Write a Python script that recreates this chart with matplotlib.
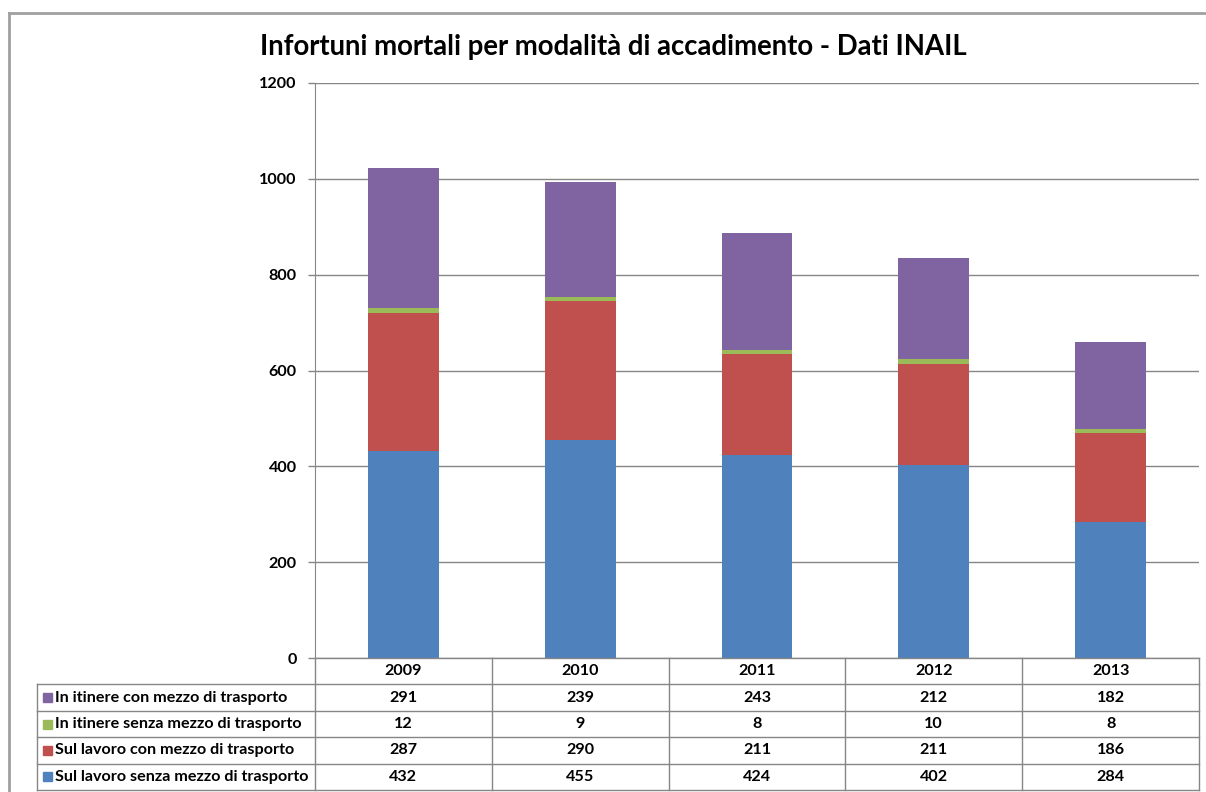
"""Infortuni mortali per modalità di accadimento - stacked bars with an Excel-style data table."""
import matplotlib
matplotlib.use("Agg")
import matplotlib.pyplot as plt
from matplotlib.lines import Line2D
from matplotlib.patches import Rectangle

years = ["2009", "2010", "2011", "2012", "2013"]
sul_lavoro_senza = [432, 455, 424, 402, 284]
sul_lavoro_con = [287, 290, 211, 211, 186]
itinere_senza = [12, 9, 8, 10, 8]
itinere_con = [291, 239, 243, 212, 182]

# bottom-to-top stacking order
series = [
    ("Sul lavoro senza mezzo di trasporto", sul_lavoro_senza, "#4F81BD"),
    ("Sul lavoro con mezzo di trasporto", sul_lavoro_con, "#C0504D"),
    ("In itinere senza mezzo di trasporto", itinere_senza, "#9BBB59"),
    ("In itinere con mezzo di trasporto", itinere_con, "#8064A2"),
]

W, H = 1206, 792
FONT = "Lato"
GRID = "#868686"
FS = 11.6


def fx(x):
    return x / W


def fy(y):
    return 1 - y / H


fig = plt.figure(figsize=(W / 100, H / 100), dpi=100)

# plot area, in pixel coordinates of the reference
left, right, top, base = 315, 1199, 83, 658
ax = fig.add_axes([fx(left), fy(base), fx(right - left), (base - top) / H])

bottom = [0] * len(years)
for label, vals, color in series:
    ax.bar(range(len(years)), vals, width=0.4, bottom=bottom, color=color, zorder=3)
    bottom = [b + v for b, v in zip(bottom, vals)]

ax.set_xlim(-0.5, len(years) - 0.5)
ax.set_ylim(0, 1200)
ax.set_yticks(range(0, 1201, 200))
ax.set_xticks([])
ax.yaxis.grid(True, color=GRID, linewidth=1, zorder=0)
for side in ("top", "right", "bottom"):
    ax.spines[side].set_visible(False)
ax.spines["left"].set_color(GRID)
ax.tick_params(axis="y", colors=GRID, length=5, width=1, labelcolor="black", pad=8)
for t in ax.get_yticklabels():
    t.set_fontfamily(FONT)
    t.set_fontweight("bold")
    t.set_fontsize(FS)

fig.text(fx(613), fy(47), "Infortuni mortali per modalità di accadimento - Dati INAIL",
         ha="center", va="center", fontsize=19.8, fontweight="bold", family=FONT)

# data table below the plot
col_w = (right - left) / len(years)
row_h = 26.4
table_left = 37
lines = []
# year row top (axis line) and row separators
lines.append(((left, right), (base, base)))
for i in range(1, len(series) + 2):
    y = base + i * row_h
    lines.append(((table_left, right), (y, y)))
lines.append(((table_left, table_left), (base + row_h, base + 5 * row_h)))
for j in range(len(years) + 1):
    x = left + j * col_w
    lines.append(((x, x), (base, base + 5 * row_h)))
for xs, ys in lines:
    fig.add_artist(Line2D([fx(v) for v in xs], [fy(v) for v in ys], color=GRID, linewidth=1))

txt = dict(ha="center", va="center", fontsize=FS, fontweight="bold", family=FONT)
for j, yr in enumerate(years):
    fig.text(fx(left + (j + 0.5) * col_w), fy(base + 0.5 * row_h), yr, **txt)

for i, (label, vals, color) in enumerate(reversed(series)):
    yc = base + (i + 1.5) * row_h
    fig.add_artist(Rectangle((fx(43), fy(yc + 4.5)), fx(9), 9 / H, color=color,
                             transform=fig.transFigure))
    fig.text(fx(55), fy(yc), label, ha="left", va="center", fontsize=FS,
             fontweight="bold", family=FONT)
    for j, v in enumerate(vals):
        fig.text(fx(left + (j + 0.5) * col_w), fy(yc), str(v), **txt)

# outer chart frame (cropped at right and bottom in the reference)
frame = "#A0A0A0"
fig.add_artist(Line2D([fx(9), fx(9)], [fy(13), fy(792)], color=frame, linewidth=2))
fig.add_artist(Line2D([fx(9), fx(1206)], [fy(13), fy(13)], color=frame, linewidth=2))

fig.savefig("out.png", dpi=100)
